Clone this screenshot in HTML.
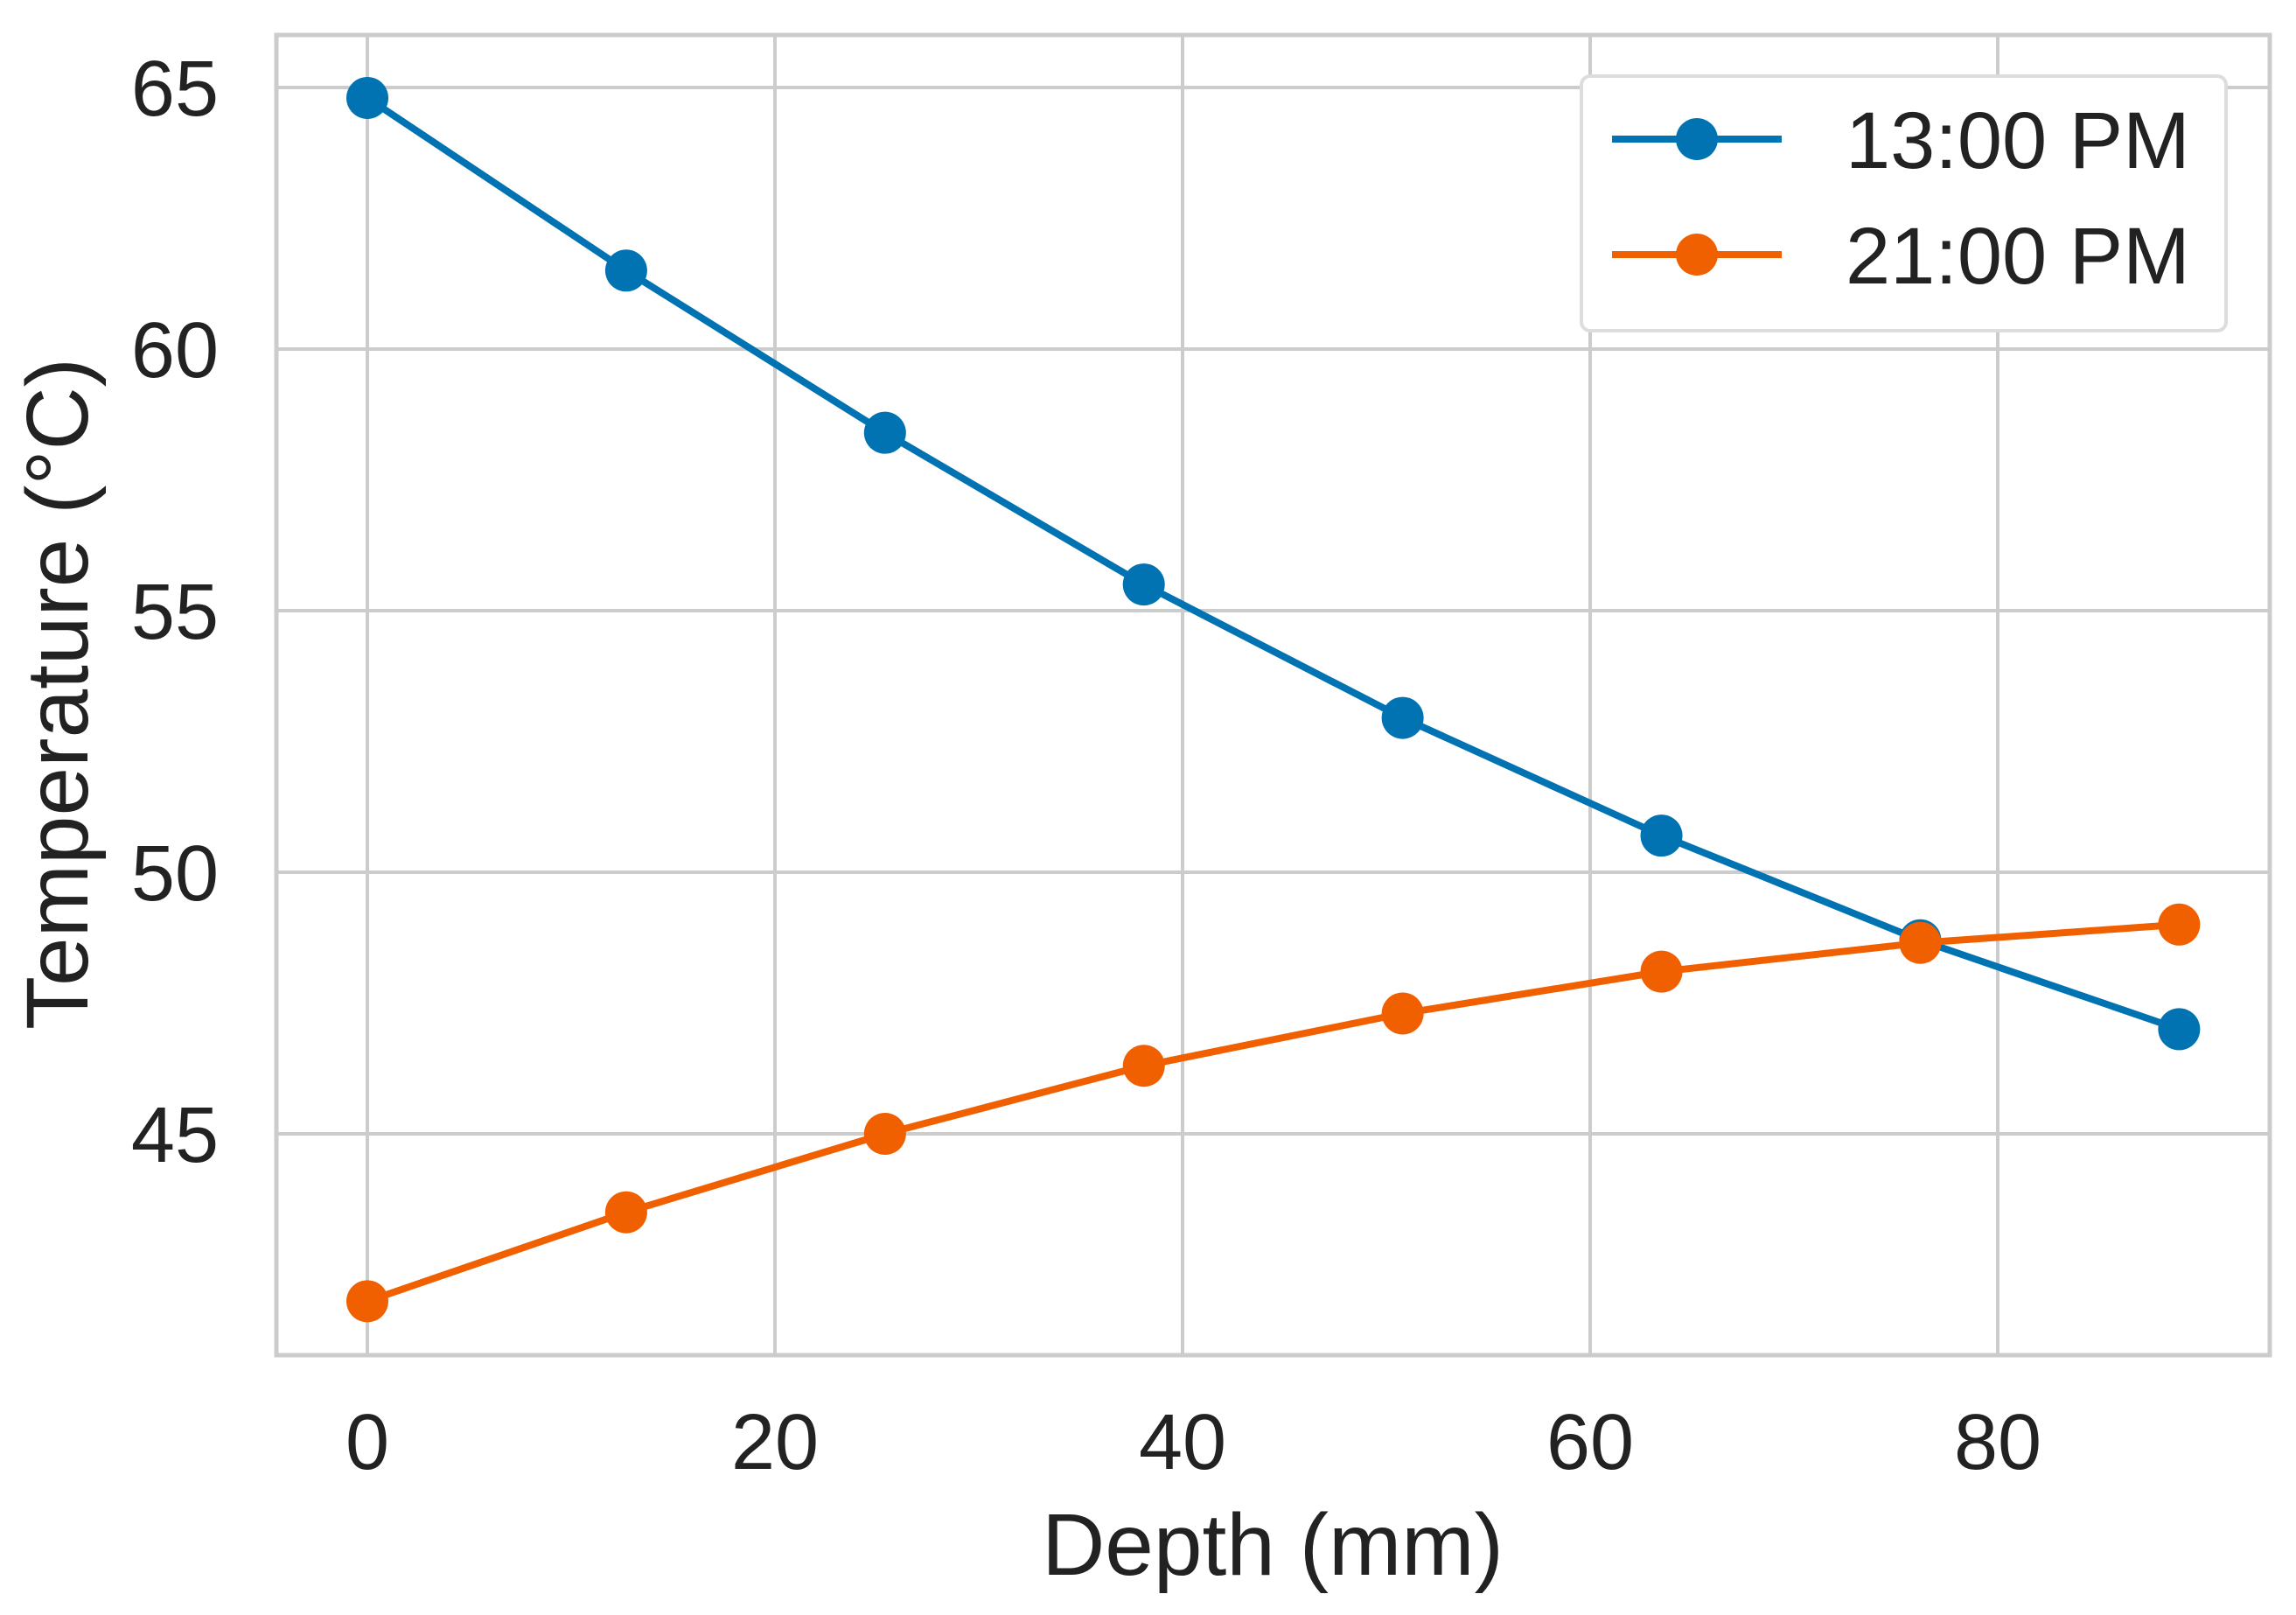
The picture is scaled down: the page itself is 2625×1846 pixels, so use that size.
<!DOCTYPE html>
<html><head><meta charset="utf-8"><style>
html,body{margin:0;padding:0;background:#fff}
svg{display:block;font-family:"Liberation Sans",Arial,sans-serif}
</style></head><body>
<svg id="chart" width="2625" height="1846" viewBox="0 0 2625 1846" xmlns="http://www.w3.org/2000/svg">
<g id="grid"></g>
<rect x="316" y="40" width="2279" height="1509" fill="none" stroke="#cccccc" stroke-width="5"/>
<g id="series"></g>
<g id="ticks" font-size="90" fill="#222"></g>
<text x="1455" y="1800" font-size="100" text-anchor="middle" fill="#222">Depth (mm)</text>
<text transform="translate(100,793) rotate(-90)" font-size="100" text-anchor="middle" fill="#222">Temperature (°C)</text>
<g>
<rect x="1808" y="87" width="737" height="291" rx="10" fill="#fff" stroke="#dddddd" stroke-width="4"/>
<line x1="1843" y1="159" x2="2037" y2="159" stroke="#0173b2" stroke-width="8"/>
<circle cx="1940" cy="159" r="24" fill="#0173b2"/>
<text x="2110" y="192" font-size="92" fill="#222">13:00 PM</text>
<line x1="1843" y1="291" x2="2037" y2="291" stroke="#f06000" stroke-width="8"/>
<circle cx="1940" cy="291" r="24" fill="#f06000"/>
<text x="2110" y="324" font-size="92" fill="#222">21:00 PM</text>
</g>
</svg>
<script>
const depths = [0, 12.7, 25.4, 38.1, 50.8, 63.5, 76.2, 88.9];
const temp1300 = [64.8, 61.5, 58.4, 55.5, 52.95, 50.7, 48.7, 47.0];
const temp2100 = [41.8, 43.5, 45.0, 46.3, 47.3, 48.1, 48.65, 49.0];
const xTicks = [0, 20, 40, 60, 80];
const yTicks = [45, 50, 55, 60, 65];

const NS = "http://www.w3.org/2000/svg";
function xs(v){ return 420 + v * (466 / 20); }
function ys(v){ return 100 + (65 - v) * (299 / 5); }
function mk(tag, attrs, parent){
  const e = document.createElementNS(NS, tag);
  for (const k in attrs) e.setAttribute(k, attrs[k]);
  parent.appendChild(e);
  return e;
}
const grid = document.getElementById('grid');
const ticks = document.getElementById('ticks');
xTicks.forEach(t => {
  const l = mk('line', {x1: xs(t), x2: xs(t), y1: 40, y2: 1549, stroke: '#cccccc', 'stroke-width': 4}, grid);
  
  
  const tx = mk('text', {x: xs(t), y: 1679, 'text-anchor': 'middle'}, ticks);
  tx.textContent = t;
  
  
});
yTicks.forEach(t => {
  const l = mk('line', {x1: 316, x2: 2595, y1: ys(t), y2: ys(t), stroke: '#cccccc', 'stroke-width': 4}, grid);
  
  
  const tx = mk('text', {x: 250, y: ys(t) + 32, 'text-anchor': 'end'}, ticks);
  tx.textContent = t;
  
  
});
const series = document.getElementById('series');
function drawSeries(vals, color, name){
  const pts = depths.map((d, i) => xs(d) + ',' + ys(vals[i])).join(' ');
  const pl = mk('polyline', {points: pts, fill: 'none', stroke: color, 'stroke-width': 8, 'stroke-linejoin': 'round'}, series);
  
  
  depths.forEach((d, i) => {
    const c = mk('circle', {cx: xs(d), cy: ys(vals[i]), r: 24, fill: color}, series);
    
    
  });
}
drawSeries(temp1300, '#0173b2', 'series-1300');
drawSeries(temp2100, '#f06000', 'series-2100');
</script>
</body></html>
